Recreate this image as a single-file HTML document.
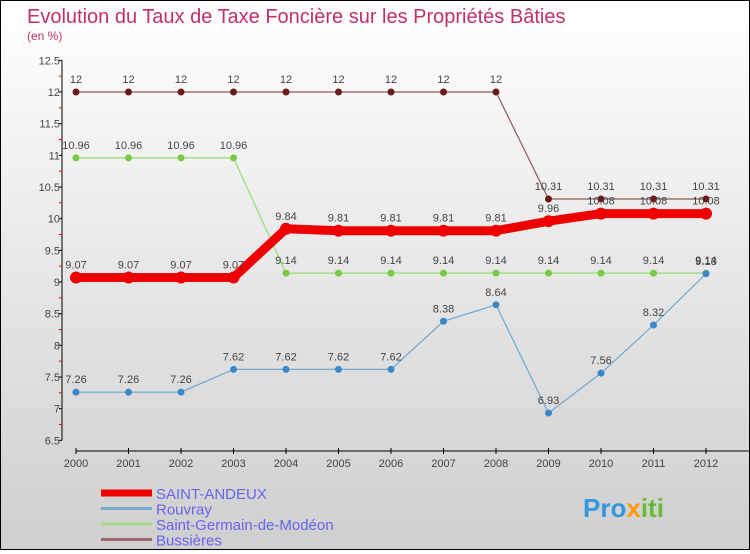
<!DOCTYPE html>
<html><head><meta charset="utf-8"><style>
body{margin:0}
#c{width:748px;height:548px;border:1px solid #000;background:linear-gradient(#ffffff,#cfcfcf);position:relative;font-family:"Liberation Sans",sans-serif}
</style></head><body>
<div id="c">
<svg id="s" width="748" height="548" xmlns="http://www.w3.org/2000/svg">
<text x="26" y="22" font-size="20" fill="#c0306a">Evolution du Taux de Taxe Foncière sur les Propriétés Bâties</text>
<text x="26" y="39" font-size="12" fill="#c0306a">(en %)</text>
<g id="axes"></g><g id="series"></g><g id="legend"></g>
<text x="582" y="516" font-size="26" font-weight="bold" fill="#3399dd">Pro<tspan fill="#ff9900">x</tspan><tspan fill="#66bb33">iti</tspan></text>
</svg></div>
<script>
const years=[2000,2001,2002,2003,2004,2005,2006,2007,2008,2009,2010,2011,2012];
const yTicks=[6.5,7,7.5,8,8.5,9,9.5,10,10.5,11,11.5,12,12.5];
const saintAndeux=[9.07,9.07,9.07,9.07,9.84,9.81,9.81,9.81,9.81,9.96,10.08,10.08,10.08];
const rouvray=[7.26,7.26,7.26,7.62,7.62,7.62,7.62,8.38,8.64,6.93,7.56,8.32,9.13];
const saintGermain=[10.96,10.96,10.96,10.96,9.14,9.14,9.14,9.14,9.14,9.14,9.14,9.14,9.14];
const bussieres=[12,12,12,12,12,12,12,12,12,10.31,10.31,10.31,10.31];
const NS="http://www.w3.org/2000/svg";
const X=i=>75+i*52.5;
const Y=v=>91+(12-v)*63.33;
function el(t,a,p){const e=document.createElementNS(NS,t);for(const k in a)e.setAttribute(k,a[k]);p.appendChild(e);return e;}
const ax=document.getElementById('axes');
let yl=el('line',{x1:61,y1:Y(12.5),x2:61,y2:Y(6.5),stroke:'#000'},ax);


yTicks.forEach((v,i)=>{
 el('line',{x1:58,x2:61,y1:Y(v),y2:Y(v),stroke:'#000'},ax);
 if(i<yTicks.length-1)el('line',{x1:58,x2:61,y1:Y(v+0.25),y2:Y(v+0.25),stroke:'#f00'},ax);
 const t=el('text',{x:59,y:Y(v)+4,'font-size':11,fill:'#444','text-anchor':'end'},ax);t.textContent=v;
 
 
});
let xl=el('line',{x1:75,y1:450,x2:748,y2:450,stroke:'#000'},ax);


years.forEach((y,i)=>{
 el('line',{x1:X(i),x2:X(i),y1:447,y2:453,stroke:'#000'},ax);
 const t=el('text',{x:X(i),y:466,'font-size':11,fill:'#444','text-anchor':'middle'},ax);t.textContent=y;
 
 
});
const sg=document.getElementById('series');
function draw(data,color,w,r,dot,name){
 const g=el('g',{},sg);
 
 
 const l=el('polyline',{points:data.map((v,i)=>X(i)+','+Y(v)).join(' '),fill:'none',stroke:color,'stroke-width':w,'stroke-linejoin':'round'},g);
 
 
 data.forEach((v,i)=>{
  const c=el('circle',{cx:X(i),cy:Y(v),r:r,fill:dot},g);
  
  
  const t=el('text',{x:X(i),y:Y(v)-9,'font-size':11,fill:'#444','text-anchor':'middle'},g);t.textContent=v;
  
  
 });
}
draw(bussieres,'#8b5a5a',1.2,3.5,'#6b1a1a','bussieres');
draw(saintGermain,'#99dd77',1.2,3.5,'#77cc44','saint-germain');
draw(rouvray,'#6fa8d0',1.2,3.5,'#3a88c8','rouvray');
draw(saintAndeux,'#ee0000',9,6,'#ee0000','saint-andeux');
const lg=document.getElementById('legend');
[['SAINT-ANDEUX','#ee0000',7],['Rouvray','#7aa9c9',3],['Saint-Germain-de-Modéon','#a6d98a',3],['Bussières','#9a6a6a',3]].forEach((d,i)=>{
 const y=492+i*15.5;
 const g=el('g',{},lg);
 
 
 el('line',{x1:100,x2:151,y1:y,y2:y,stroke:d[1],'stroke-width':d[2]},g);
 const t=el('text',{x:155,y:y+6,'font-size':15,fill:'#6666ee'},g);t.textContent=d[0];
});
</script>
</body></html>
